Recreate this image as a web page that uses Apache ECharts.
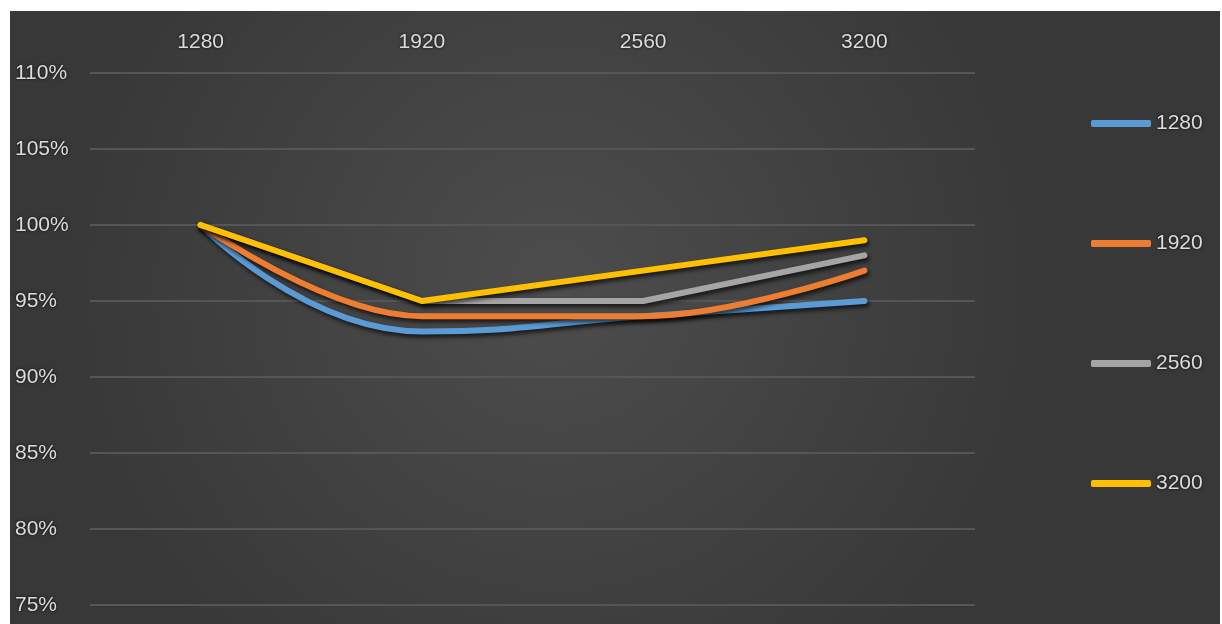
<!DOCTYPE html>
<html><head><meta charset="utf-8">
<script src="https://cdn.jsdelivr.net/npm/echarts@6/dist/echarts.min.js"></script>
<style>html,body{margin:0;padding:0;background:#fff;width:1222px;height:624px;overflow:hidden}
#c{position:absolute;left:10px;top:11px;width:1210px;height:613px}</style>
</head><body><div id="c"></div>
<script>
const categories = ['1280', '1920', '2560', '3200'];
const s1280 = [100, 93, 94, 95];
const s1920 = [100, 94, 94, 97];
const s2560 = [100, 95, 95, 98];
const s3200 = [100, 95, 97, 99];
const seriesNames = ['1280', '1920', '2560', '3200'];
const colors = ['#5B9BD5', '#ED7D31', '#A5A5A5', '#FFC000'];
const smoothFlags = [0.5, 0.4, false, false];

const chart = echarts.init(document.getElementById('c'));
const txt = {color: '#dcdcdc', fontFamily: 'Liberation Sans', fontSize: 21,
  textShadowColor: 'rgba(0,0,0,0.85)', textShadowBlur: 3};
const allData = [s1280, s1920, s2560, s3200];
chart.setOption({
  backgroundColor: {type: 'radial', x: 0.45, y: 0.45, r: 0.8,
    colorStops: [{offset: 0, color: '#4d4d4d'}, {offset: 1, color: '#383838'}]},
  animation: false,
  grid: {left: 80, top: 62, width: 885, height: 532},
  xAxis: {type: 'category', position: 'top', data: categories, boundaryGap: true,
    axisLine: {show: false}, axisTick: {show: false},
    axisLabel: Object.assign({margin: 20}, txt)},
  yAxis: {type: 'value', min: 75, max: 110, interval: 5,
    axisLine: {show: false}, axisTick: {show: false},
    splitLine: {lineStyle: {color: '#565656', width: 2}},
    axisLabel: Object.assign({margin: 75, align: 'left', formatter: v => v + '%'}, txt)},
  legend: {orient: 'vertical', left: 1076, top: 97, itemWidth: 60, itemHeight: 7,
    itemGap: 99, icon: 'roundRect',
    textStyle: Object.assign({lineHeight: 20}, txt),
    data: seriesNames},
  series: seriesNames.map((n, i) => ({
    name: n, type: 'line', data: allData[i], smooth: smoothFlags[i],
    showSymbol: false, symbol: 'none', color: colors[i],
    itemStyle: {color: colors[i]},
    lineStyle: {width: 6, color: colors[i], cap: 'round', join: 'round',
      shadowColor: 'rgba(0,0,0,0.7)', shadowBlur: 4, shadowOffsetX: 2, shadowOffsetY: 3}
  }))
});
</script></body></html>
